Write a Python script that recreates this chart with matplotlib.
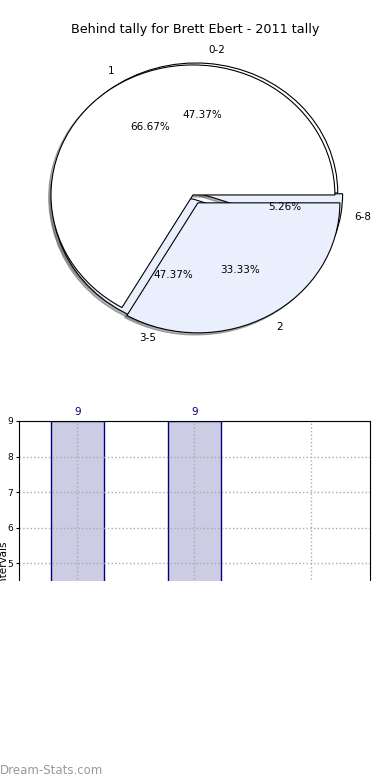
import matplotlib
matplotlib.use('Agg')
import matplotlib.pyplot as plt
from matplotlib.patches import Rectangle

# tally data
ranges = ['0-2', '3-5', '6-8']
range_counts = [9, 9, 1]
tallies = ['1', '2']
tally_counts = [2, 1]

title = 'Behind tally for Brett Ebert - 2011 tally'

white = 'white'
light_blue = '#e9effc'
shadow = {'ox': -0.012, 'oy': -0.012, 'shade': 0.6}

fig = plt.figure(figsize=[3.9, 7.8], dpi=100)

# pie part (two pies drawn on the same axes)
ax = fig.add_axes([0.0397, 0.5417, 0.910, 0.4167])
ax.pie(range_counts, labels=ranges, colors=[white, light_blue, light_blue],
       explode=[0, 0.05, 0.035], center=(0.02, 0.015), autopct='%.2f%%', shadow=shadow,
       wedgeprops={'edgecolor': 'k', 'linewidth': 0.8},
       textprops={'fontsize': 7.5})
ax.pie(tally_counts, labels=tallies, colors=[white, light_blue],
       explode=[0, 0.07], autopct='%.2f%%', shadow=shadow,
       wedgeprops={'edgecolor': 'k', 'linewidth': 0.8},
       textprops={'fontsize': 7.5})
ax.set_aspect('auto')
ax.set_xlim(-1.25, 1.25)
ax.set_ylim(-1.25, 1.25)
fig.text(0.5, 1 - 30 / 780, title, ha='center', va='center', fontsize=9.2)

# bar part
bx = fig.add_axes([0.0487, 0.05, 0.90, 0.4103])
x = range(len(ranges))
bars = bx.bar(x, range_counts, width=0.45, color='#ccccE4', edgecolor='#000080', linewidth=1)
for b, v in zip(bars, range_counts):
    bx.text(b.get_x() + b.get_width() / 2, v + 0.1, str(v), ha='center', va='bottom',
            color='#000080', fontsize=7.5)
bx.set_xlim(-0.5, 2.5)
bx.set_ylim(0, 9)
bx.set_xticks(list(x))
bx.set_xticklabels(ranges)
bx.set_yticks(range(0, 10))
bx.tick_params(axis='y', labelsize=6.5, length=2, pad=2)
bx.tick_params(axis='x', length=0)
bx.grid(True, linestyle=':', color='#aaaaaa', linewidth=1)
bx.set_axisbelow(False)
for s in bx.spines.values():
    s.set_zorder(5)
bx.set_ylabel('No. of intervals', fontsize=7.5)
bx.yaxis.set_label_coords(-0.028, 0.5)

# the original image is blank below the top part of the bar chart
fig.patches.append(Rectangle((0, 0), 1, 1 - 581 / 780, transform=fig.transFigure,
                             facecolor='white', edgecolor='none', zorder=10))
fig.text(0.0, 1 - 770 / 780, 'Dream-Stats.com', ha='left', va='center',
         color='#999999', fontsize=8.5, zorder=11)

plt.savefig('out.png', dpi=100)
